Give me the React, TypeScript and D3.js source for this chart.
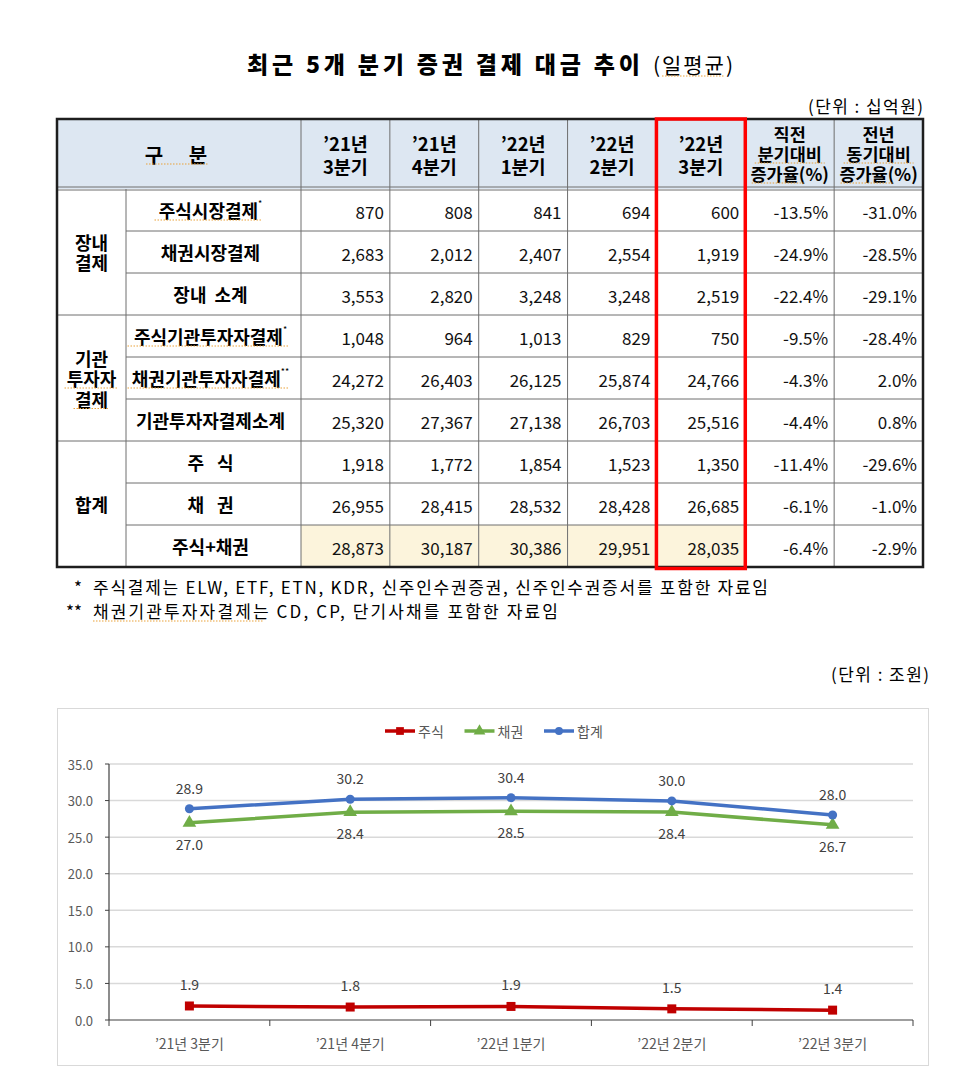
// @ts-nocheck
import React from 'react';
import * as d3 from 'd3';

const FONT = '"Noto Sans CJK KR", "Noto Sans", sans-serif';

const title = '최근 5개 분기 증권 결제 대금 추이';
const titleNote = '(일평균)';
const tableUnit = '(단위 : 십억원)';
const chartUnit = '(단위 : 조원)';

const headCorner = ['구', '분'];
const quarterHeads = [
    ['’21년', '3분기'],
    ['’21년', '4분기'],
    ['’22년', '1분기'],
    ['’22년', '2분기'],
    ['’22년', '3분기'],
];
const changeHeads = [
    ['직전', '분기대비', '증가율(%)'],
    ['전년', '동기대비', '증가율(%)'],
];

const groups = [
    { lines: ['장내', '결제'], size: 3 },
    { lines: ['기관', '투자자', '결제'], size: 3 },
    { lines: ['합계'], size: 3 },
];
const rowLabels = [
    '주식시장결제', '채권시장결제', '장내 소계',
    '주식기관투자자결제', '채권기관투자자결제', '기관투자자결제소계',
    '주 식', '채 권', '주식+채권',
];
const rowMarks = ['*', '', '', '*', '**', '', '', '', ''];
const spellRows = [0, 3, 4];

// 십억원, rows in the order of rowLabels
const q21_3 = [870, 2683, 3553, 1048, 24272, 25320, 1918, 26955, 28873];
const q21_4 = [808, 2012, 2820, 964, 26403, 27367, 1772, 28415, 30187];
const q22_1 = [841, 2407, 3248, 1013, 26125, 27138, 1854, 28532, 30386];
const q22_2 = [694, 2554, 3248, 829, 25874, 26703, 1523, 28428, 29951];
const q22_3 = [600, 1919, 2519, 750, 24766, 25516, 1350, 26685, 28035];
const qoqChange = [-13.5, -24.9, -22.4, -9.5, -4.3, -4.4, -11.4, -6.1, -6.4];
const yoyChange = [-31.0, -28.5, -29.1, -28.4, 2.0, 0.8, -29.6, -1.0, -2.9];
const quarters = [q21_3, q21_4, q22_1, q22_2, q22_3];

const footnotes = [
    ['*', '주식결제는 ELW, ETF, ETN, KDR, 신주인수권증권, 신주인수권증서를 포함한 자료임', 675],
    ['**', '채권기관투자자결제는 CD, CP, 단기사채를 포함한 자료임', 465],
];

const chartCategories = ['’21년 3분기', '’21년 4분기', '’22년 1분기', '’22년 2분기', '’22년 3분기'];
const seriesNames = ['주식', '채권', '합계'];
const seriesRows = [6, 7, 8];
const seriesColors = ['#c00000', '#70ad47', '#4472c4'];
const seriesSymbols = [d3.symbolSquare, d3.symbolTriangle, d3.symbolCircle];
const labelOffsets = [-22, 21, -21];
const yTicks = [0, 5, 10, 15, 20, 25, 30, 35];

function approxWidth(s, size) {
    let w = 0;
    for (const ch of s) {
        if (/[가-힣]/.test(ch)) w += size;
        else if (ch === ' ') w += size * 0.224;
        else if (/[0-9]/.test(ch)) w += size * 0.55;
        else w += size * 0.45;
    }
    return w;
}

function Spell({ x1, x2, y }) {
    return (
        <line x1={x1} x2={x2} y1={y} y2={y} stroke="#e9a23b" strokeWidth={1.2} strokeDasharray="1.5 1.5" />
    );
}

function Title() {
    return (
        <g fontFamily={FONT}>
            <text x={247} y={63} fontSize={23} fontWeight={800} dominantBaseline="central"
                textLength={393} lengthAdjust="spacing">{title}</text>
            <text x={653} y={64} fontSize={21} dominantBaseline="central"
                textLength={80} lengthAdjust="spacing">{titleNote}</text>
            <Spell x1={662} x2={724} y={76} />
        </g>
    );
}

function Table() {
    const left = 57, right = 923, top = 119, headBottom = 189, bottom = 567;
    const groupRight = 126, labelRight = 301;
    const col = d3.scaleBand().domain(d3.range(7)).range([labelRight, right]);
    const row = d3.scaleBand().domain(d3.range(rowLabels.length)).range([headBottom, bottom]);
    const bw = col.bandwidth();
    const rh = row.bandwidth();
    const num = d3.format(',');
    const pct = (v) => v.toFixed(1) + '%';
    const groupStarts = [];
    let acc = 0;
    groups.forEach((g) => { groupStarts.push(acc); acc += g.size; });
    const labelCx = (groupRight + labelRight) / 2;
    const headMid = (top + headBottom) / 2;

    return (
        <g fontFamily={FONT}>
            <rect x={left} y={top} width={right - left} height={headBottom - top} fill="#dde7f2" />
            {d3.range(5).map((i) => (
                <rect key={'yl' + i} x={col(i)} y={row(8)} width={bw} height={rh} fill="#fcf4dc" />
            ))}
            {/* horizontal rules */}
            {d3.range(1, rowLabels.length).map((r) => (
                <line key={'h' + r}
                    x1={groupStarts.includes(r) ? left : groupRight} x2={right}
                    y1={row(r)} y2={row(r)} stroke="#6e6e6e" strokeWidth={1} />
            ))}
            <line x1={left} x2={right} y1={headBottom - 2} y2={headBottom - 2} stroke="#6e6e6e" />
            <line x1={left} x2={right} y1={headBottom + 1} y2={headBottom + 1} stroke="#6e6e6e" />
            {/* vertical rules */}
            <line x1={groupRight} x2={groupRight} y1={headBottom} y2={bottom} stroke="#6e6e6e" />
            {d3.range(7).map((i) => (
                <line key={'v' + i} x1={col(i)} x2={col(i)} y1={top} y2={bottom} stroke="#6e6e6e" />
            ))}
            <rect x={left} y={top} width={right - left} height={bottom - top} fill="none" stroke="#1e1e1e" strokeWidth={2.5} />

            {/* header */}
            <text x={154} y={headMid} fontSize={20} fontWeight={700} textAnchor="middle" dominantBaseline="central">{headCorner[0]}</text>
            <text x={198} y={headMid} fontSize={20} fontWeight={700} textAnchor="middle" dominantBaseline="central">{headCorner[1]}</text>
            <Spell x1={146} x2={209} y={headMid + 10} />
            {quarterHeads.map((lines, i) => (
                <g key={'qh' + i}>
                    {lines.map((t, k) => (
                        <text key={k} x={col(i) + bw / 2} y={headMid - 11 + k * 23} fontSize={18.5} fontWeight={700}
                            textAnchor="middle" dominantBaseline="central">{t}</text>
                    ))}
                </g>
            ))}
            {changeHeads.map((lines, i) => (
                <g key={'ch' + i}>
                    {lines.map((t, k) => {
                        const cx = col(5 + i) + bw / 2;
                        const cy = headMid - 21 + k * 20;
                        const w = approxWidth(t, 17.5);
                        return (
                            <g key={k}>
                                <text x={cx} y={cy} fontSize={17.5} fontWeight={700}
                                    textAnchor="middle" dominantBaseline="central">{t}</text>
                                {k > 0 && <Spell x1={cx - w / 2} x2={k === 2 ? cx - w / 2 + 52 : cx + w / 2} y={cy + 10} />}
                            </g>
                        );
                    })}
                </g>
            ))}

            {/* group labels */}
            {groups.map((g, gi) => {
                const y0 = row(groupStarts[gi]);
                const y1 = y0 + g.size * rh;
                const cy = (y0 + y1) / 2;
                return (
                    <g key={'g' + gi}>
                        {g.lines.map((t, k) => {
                            const ty = cy + (k - (g.lines.length - 1) / 2) * 20.5;
                            const w = approxWidth(t, 18);
                            return (
                                <g key={k}>
                                    <text x={(left + groupRight) / 2} y={ty} fontSize={18} fontWeight={700}
                                        textAnchor="middle" dominantBaseline="central">{t}</text>
                                    {gi === 1 && k > 0 && <Spell x1={91.5 - w / 2} x2={91.5 + w / 2} y={ty + 10} />}
                                </g>
                            );
                        })}
                    </g>
                );
            })}

            {/* row labels */}
            {rowLabels.map((t, r) => {
                const cy = row(r) + rh / 2;
                const w = approxWidth(t, 18);
                const spaced = t.length <= 3;
                return (
                    <g key={'rl' + r}>
                        <text x={labelCx - 3} y={cy} fontSize={18} fontWeight={700} textAnchor="middle"
                            dominantBaseline="central" style={{ wordSpacing: spaced ? '9px' : '4px' }}>
                            {t}
                            {rowMarks[r] && <tspan fontSize={9} fontWeight={400} dy={-7}>{rowMarks[r]}</tspan>}
                        </text>
                        {spellRows.includes(r) && <Spell x1={labelCx - 5 - w / 2} x2={labelCx - 5 + w / 2} y={cy + 10} />}
                    </g>
                );
            })}

            {/* values */}
            {rowLabels.map((_, r) => {
                const cy = row(r) + rh / 2 + 1;
                const cells = quarters.map((q) => num(q[r])).concat([pct(qoqChange[r]), pct(yoyChange[r])]);
                return (
                    <g key={'rv' + r}>
                        {cells.map((c, i) => (
                            <text key={i} x={col(i) + bw - 6} y={cy} fontSize={17} textAnchor="end" dominantBaseline="central" fill="#111">{c}</text>
                        ))}
                    </g>
                );
            })}

            {/* highlighted latest quarter */}
            <rect x={col(4)} y={top} width={bw} height={bottom - top + 1.5} fill="none" stroke="#ff0000" strokeWidth={3.5} />
        </g>
    );
}

function Chart() {
    const x = d3.scaleBand().domain(chartCategories).range([109, 913]);
    const y = d3.scaleLinear().domain([0, 35]).range([1020, 764]);
    const cx = (i) => x(chartCategories[i]) + x.bandwidth() / 2;
    const line = d3.line().x((_, i) => cx(i)).y((d) => y(d));
    const f1 = d3.format('.1f');
    const series = seriesRows.map((r) => quarters.map((q) => q[r] / 1000));
    const legendX = d3.scalePoint().domain(seriesNames).range([385, 544]);

    return (
        <g fontFamily={FONT}>
            <rect x={57.5} y={708.5} width={871} height={357} fill="#fff" stroke="#d9d9d9" strokeWidth={1} />
            {/* legend */}
            {seriesNames.map((n, s) => {
                const lx = legendX(n);
                return (
                    <g key={'lg' + n}>
                        <line x1={lx} x2={lx + 30} y1={731} y2={731} stroke={seriesColors[s]} strokeWidth={3.5} />
                        <path d={d3.symbol(seriesSymbols[s], s === 2 ? 50 : 60)()} transform={`translate(${lx + 15},731)`} fill={seriesColors[s]} />
                        <text x={lx + 33} y={731} fontSize={14} fill="#595959" dominantBaseline="central">{n}</text>
                    </g>
                );
            })}
            {/* grid + y axis */}
            {yTicks.map((t) => (
                <g key={'yt' + t}>
                    {t > 0 && <line x1={109} x2={913} y1={y(t)} y2={y(t)} stroke="#d9d9d9" strokeWidth={1.5} />}
                    <line x1={105} x2={109} y1={y(t)} y2={y(t)} stroke="#404040" />
                    <text x={93} y={y(t)} fontSize={13} fill="#595959" textAnchor="end" dominantBaseline="central">{f1(t)}</text>
                </g>
            ))}
            <line x1={109} x2={109} y1={y(35)} y2={y(0)} stroke="#404040" strokeWidth={1.2} />
            <line x1={109} x2={913} y1={y(0)} y2={y(0)} stroke="#404040" strokeWidth={1.2} />
            {d3.range(chartCategories.length + 1).map((i) => {
                const tx = i < chartCategories.length ? x(chartCategories[i]) : 913;
                return <line key={'xt' + i} x1={tx} x2={tx} y1={y(0)} y2={y(0) + 6} stroke="#404040" />;
            })}
            {chartCategories.map((c, i) => (
                <text key={'xl' + i} x={cx(i)} y={1043} fontSize={14} fill="#595959" textAnchor="middle" dominantBaseline="central">{c}</text>
            ))}
            {/* series */}
            {series.map((vals, s) => (
                <g key={'s' + s}>
                    <path d={line(vals)} fill="none" stroke={seriesColors[s]} strokeWidth={3.5} strokeLinejoin="round" />
                    {vals.map((v, i) => (
                        <path key={i} d={d3.symbol(seriesSymbols[s], s === 2 ? 64 : 81)()} transform={`translate(${cx(i)},${y(v)})`} fill={seriesColors[s]} />
                    ))}
                    {vals.map((v, i) => (
                        <text key={'l' + i} x={cx(i)} y={y(v) + labelOffsets[s]} fontSize={14} fill="#404040"
                            textAnchor="middle" dominantBaseline="central">{f1(v)}</text>
                    ))}
                </g>
            ))}
        </g>
    );
}

export default function App() {
    return (
        <svg width={960} height={1092} style={{ position: 'absolute', left: 0, top: 0, display: 'block' }}>
            <rect width={960} height={1092} fill="#fff" />
            <Title />
            <g fontFamily={FONT}>
                <text x={808} y={105} fontSize={17} dominantBaseline="central" textLength={115} lengthAdjust="spacing">{tableUnit}</text>
            </g>
            <Table />
            <g fontFamily={FONT}>
                {footnotes.map(([mark, text, len], i) => (
                    <g key={'fn' + i}>
                        <text x={82} y={586 + i * 24} fontSize={17} textAnchor="end" dominantBaseline="central">{mark}</text>
                        <text x={93} y={586 + i * 24} fontSize={17} dominantBaseline="central" textLength={len} lengthAdjust="spacing">{text}</text>
                    </g>
                ))}
                <Spell x1={93} x2={93 + 170} y={597 + 24} />
                <text x={831} y={673} fontSize={17} dominantBaseline="central" textLength={98} lengthAdjust="spacing">{chartUnit}</text>
            </g>
            <Chart />
        </svg>
    );
}
